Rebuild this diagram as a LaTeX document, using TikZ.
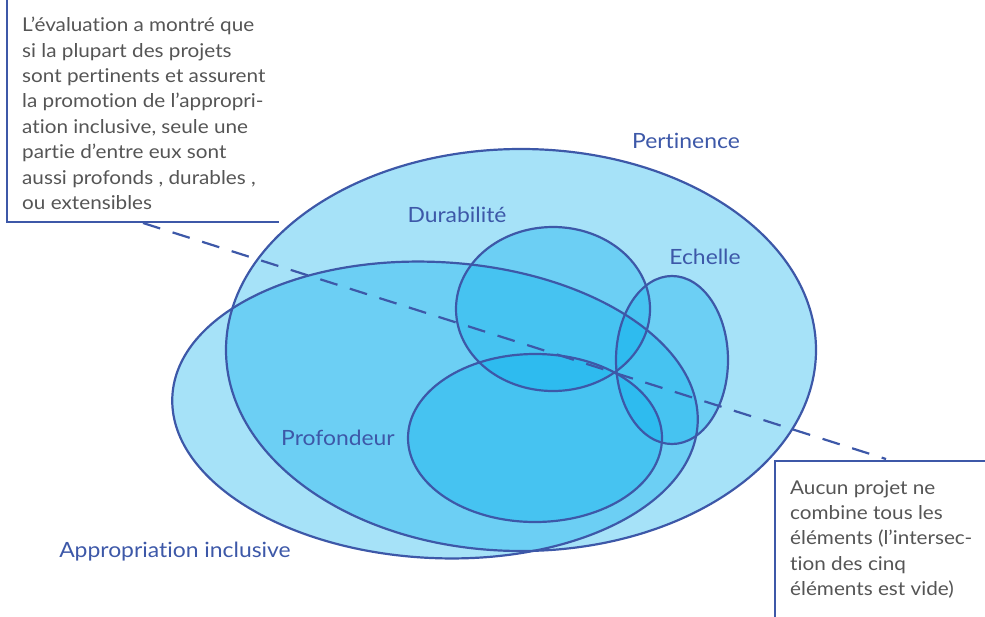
\documentclass[tikz,border=0pt]{standalone}
\usepackage{fontspec}
\setmainfont{Lato}[Ligatures=NoCommon, FakeStretch=1.09]
\definecolor{setblue}{RGB}{0,172,236}
\definecolor{inkblue}{RGB}{61,88,168}
\definecolor{notegray}{RGB}{85,85,85}
\tikzstyle{setfill} = [fill=setblue, fill opacity=0.35]
\tikzstyle{setline} = [draw=inkblue, line width=2.2pt]
\tikzstyle{setname} = [text=inkblue, inner sep=0pt, font=\fontsize{21}{24}\selectfont]
\tikzstyle{note} = [text=notegray, align=left, inner sep=0pt, anchor=north west,
    font=\fontsize{19}{25.4}\selectfont]
\tikzstyle{noteframe} = [draw=inkblue, line width=2.2pt]
\tikzstyle{line} = [draw=inkblue, line width=2.2pt, dash pattern=on 18pt off 13pt]
% centre x / centre y / x radius / y radius / tilt
\newcommand{\setlist}{521/350/295/201/0, 435/410/263/148/-3, 553/309/97/82/0,
    672/360/56/84/0, 535/438/127/84/0}

\begin{document}
\begin{tikzpicture}[x=1pt, y=-1pt]
  \useasboundingbox (0,0) rectangle (985,616);
  % sets: fills first, outlines on top
  \foreach \cx/\cy/\rx/\ry/\tilt in \setlist
    \path [setfill, rotate around={\tilt:(\cx,\cy)}] (\cx,\cy) ellipse [x radius=\rx, y radius=\ry];
  \foreach \cx/\cy/\rx/\ry/\tilt in \setlist
    \path [setline, rotate around={\tilt:(\cx,\cy)}] (\cx,\cy) ellipse [x radius=\rx, y radius=\ry];
  \node [setname] (pertinence) at (686,141) {Pertinence};
  \node [setname] (durabilite) at (457,215) {Durabilité};
  \node [setname] (echelle) at (705,257) {Echelle};
  \node [setname] (profondeur) at (338,438) {Profondeur};
  \node [setname] (appropriation) at (175,552) {Appropriation inclusive};
  % notes
  \node [note] (findings) at (22,17) {L’évaluation a montré que\\si la plupart des projets\\sont pertinents et assurent\\la promotion de l’appropri-\\ation inclusive, seule une\\partie d’entre eux sont\\aussi profonds , durables ,\\ou extensibles};
  \draw [noteframe] (7,-5) |- (279,222);
  \node [note] (empty) at (790,480) {Aucun projet ne\\combine tous les\\éléments (l’intersec-\\tion des cinq\\éléments est vide)};
  \draw [noteframe] (775,625) |- (995,461);
  \coordinate (findingsfoot) at (143,223);
  \coordinate (emptyhead) at (886,459);
  \path [line] (findingsfoot) -- (emptyhead);
\end{tikzpicture}
\end{document}
